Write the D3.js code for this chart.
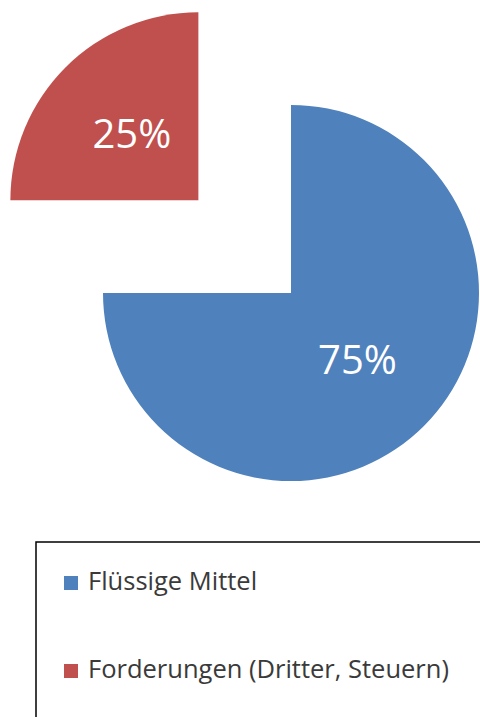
<!DOCTYPE html>
<html>
<head>
<meta charset="utf-8">
<script src="https://cdn.jsdelivr.net/npm/d3@7"></script>
<style>
  body { margin: 0; background: #fff; }
</style>
</head>
<body>
<script>
var categories = ["Flüssige Mittel", "Forderungen (Dritter, Steuern)"];
var values = [75, 25];
var labels = ["75%", "25%"];
var colors = ["#4F81BD", "#C0504D"];
var exploded = [false, true];

var width = 480, height = 717;
var cx = 291, cy = 293, radius = 188;
var explodeDist = 131;

var svg = d3.select("body").append("svg")
    .attr("width", width)
    .attr("height", height);

var pie = d3.pie().sort(null).value(function(d) { return d; });
var arcs = pie(values);

var arc = d3.arc().innerRadius(0).outerRadius(radius);
var labelArc = d3.arc().innerRadius(radius * 0.5).outerRadius(radius * 0.5);

var pieGroup = svg.append("g")
    .attr("transform", "translate(" + cx + "," + cy + ")");

var slices = pieGroup.selectAll("g.slice")
    .data(arcs)
    .enter().append("g")
    .attr("class", "slice")
    .attr("transform", function(d, i) {
        if (!exploded[i]) return null;
        var a = (d.startAngle + d.endAngle) / 2;
        return "translate(" + (Math.sin(a) * explodeDist) + "," + (-Math.cos(a) * explodeDist) + ")";
    });

slices.append("path")
    .attr("d", arc)
    .attr("fill", function(d, i) { return colors[i]; });

slices.append("text")
    .attr("transform", function(d) { return "translate(" + labelArc.centroid(d) + ")"; })
    .attr("text-anchor", "middle")
    .attr("dy", "0.36em")
    .attr("fill", "#fff")
    .style("font-family", "'Open Sans', sans-serif")
    .style("font-size", "40px")
    .text(function(d, i) { return labels[i]; });

// legende
var legend = svg.append("g").attr("class", "legend");
legend.append("rect")
    .attr("x", 36)
    .attr("y", 542)
    .attr("width", 460)
    .attr("height", 200)
    .attr("fill", "none")
    .attr("stroke", "#000")
    .attr("stroke-width", 1.5);

var legendY = d3.scalePoint().domain(categories).range([583, 671]);

var items = legend.selectAll("g.item")
    .data(categories)
    .enter().append("g")
    .attr("class", "item")
    .attr("transform", function(d) { return "translate(64," + legendY(d) + ")"; });

items.append("rect")
    .attr("x", 0)
    .attr("y", -7)
    .attr("width", 14)
    .attr("height", 14)
    .attr("fill", function(d, i) { return colors[i]; });

items.append("text")
    .attr("x", 24)
    .attr("y", 7)
    .attr("fill", "#3a3a3a")
    .style("font-family", "'Open Sans', sans-serif")
    .style("font-size", "25.5px")
    .text(function(d) { return d; });
</script>
</body>
</html>
